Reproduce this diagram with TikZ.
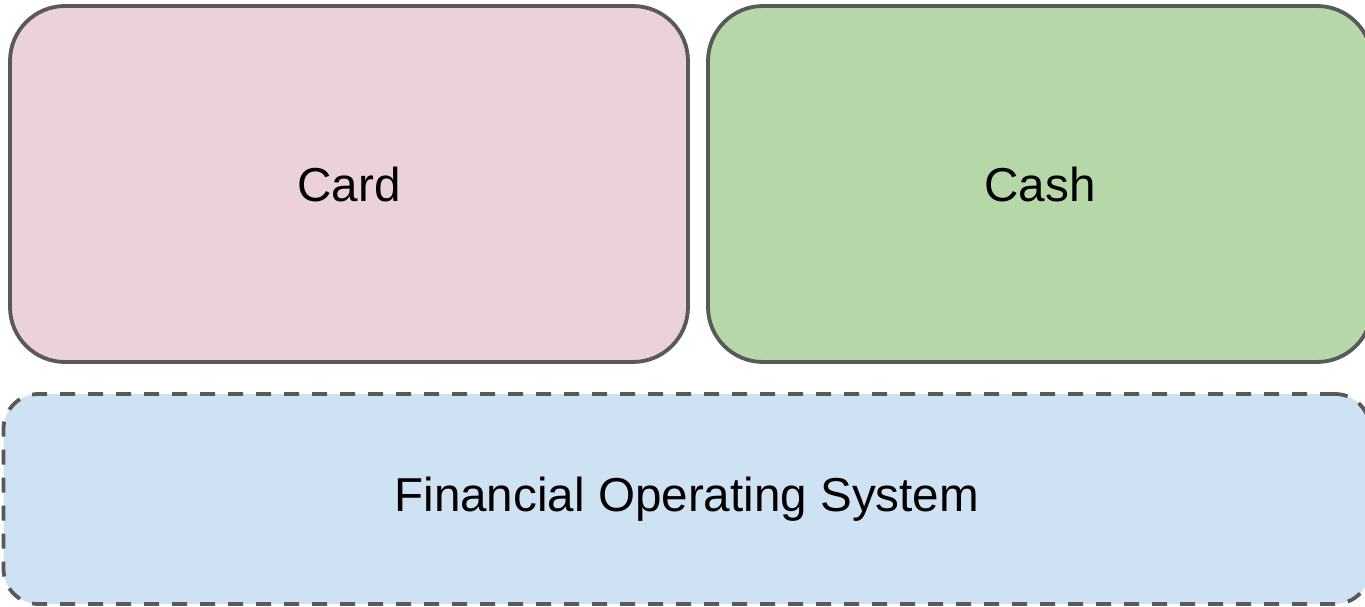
\documentclass[tikz,border=0pt]{standalone}
\usepackage{fontspec}
\setmainfont{Liberation Sans}
\definecolor{edge}{HTML}{595959}
\definecolor{cardfill}{HTML}{EAD1DC}
\definecolor{cashfill}{HTML}{B6D7A8}
\definecolor{fosfill}{HTML}{CFE2F3}
\begin{document}
\begin{tikzpicture}[x=1pt,y=-1pt,
  panel/.style={draw=edge, line width=3.8pt, rounded corners=55pt, inner sep=0pt,
    font=\fontsize{47.6}{57}\selectfont, text=black},
  base/.style={panel, rounded corners=35pt, dash pattern=on 15pt off 13pt}]
\useasboundingbox (0,0) rectangle (1365,607);
\clip (0,0) rectangle (1365,607);
\fill[white] (0,0) rectangle (1365,607);
% top row: the two payment methods
\node[panel, fill=cardfill, minimum width=678pt, minimum height=356pt] (card) at (349,184) {Card};
\node[panel, fill=cashfill, minimum width=664pt, minimum height=356pt] (cash) at (1040,184) {Cash};
% platform layer underneath
\node[base, fill=fosfill, minimum width=1366.5pt, minimum height=210pt] (fos) at (686.75,499) {Financial Operating System};
\end{tikzpicture}
\end{document}
